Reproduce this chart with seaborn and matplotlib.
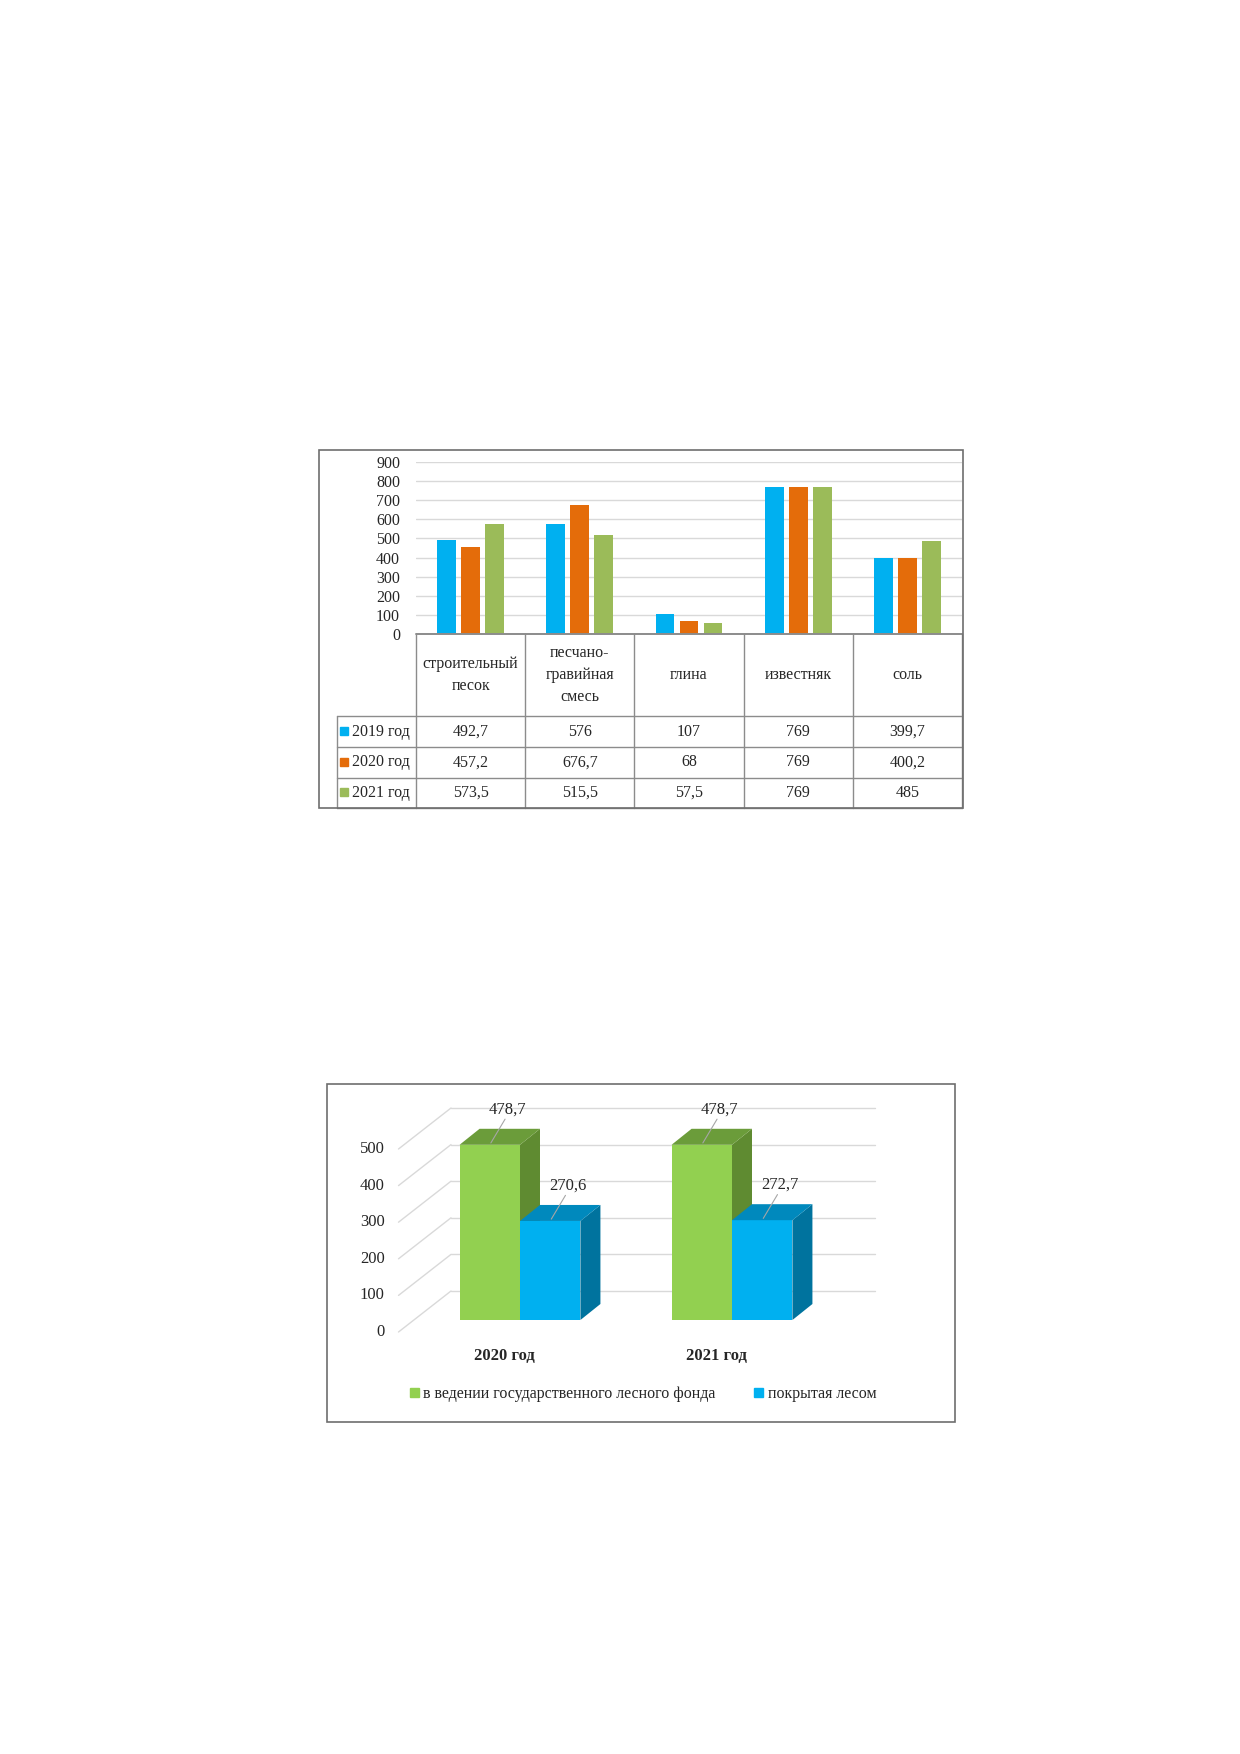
#!/usr/bin/env python3
"""Mineral extraction table chart and forest fund 3D bar chart."""

import matplotlib

matplotlib.use("Agg")
import matplotlib.pyplot as plt
import pandas as pd
import seaborn as sns
from matplotlib.patches import Patch, Polygon, Rectangle

W, H = 1240, 1754

# Chart 1: extraction by mineral and year
MINERALS = ["строительный\nпесок", "песчано-\nгравийная\nсмесь", "глина", "известняк", "соль"]
YEARS = ["2019 год", "2020 год", "2021 год"]
VALS_2019 = [492.7, 576, 107, 769, 399.7]
VALS_2020 = [457.2, 676.7, 68, 769, 400.2]
VALS_2021 = [573.5, 515.5, 57.5, 769, 485]
YEAR_COLORS = ["#00B0F0", "#E46C0A", "#9BBB59"]
Y1_TICKS = list(range(0, 901, 100))

# Chart 2: forest fund area
FOREST_YEARS = ["2020 год", "2021 год"]
FOREST_SERIES = ["в ведении государственного лесного фонда", "покрытая лесом"]
FOREST_TOTAL = [478.7, 478.7]
FOREST_COVERED = [270.6, 272.7]
FRONT_COLORS = ["#92D050", "#00B0F0"]
SIDE_COLORS = ["#5F8B31", "#00739E"]
TOP_COLORS = ["#6B9C3A", "#0089BD"]
Y2_TICKS = list(range(0, 501, 100))

GRID = "#d9d9d9"
LINE = "#8c8c8c"
FRAME = "#6e6e6e"


def fig_box(x0, y0, x1, y1):
    """Pixel box (top-left origin) -> figure fraction rect."""
    return [x0 / W, 1 - y1 / H, (x1 - x0) / W, (y1 - y0) / H]


def fmt(v):
    return f"{v:g}".replace(".", ",")


def add_frame(fig, x0, y0, x1, y1):
    fig.add_artist(Rectangle((x0 / W, 1 - y1 / H), (x1 - x0) / W, (y1 - y0) / H,
                             transform=fig.transFigure, fill=False, ec=FRAME, lw=1.2))


def chart_minerals(fig):
    df = pd.DataFrame({
        "mineral": MINERALS * 3,
        "year": [YEARS[0]] * 5 + [YEARS[1]] * 5 + [YEARS[2]] * 5,
        "value": VALS_2019 + VALS_2020 + VALS_2021,
    })

    ax = fig.add_axes(fig_box(416, 462, 962, 634))
    sns.barplot(data=df, x="mineral", y="value", hue="year", palette=YEAR_COLORS,
                saturation=1, width=0.66, gap=0.22, linewidth=0, legend=False, ax=ax)
    ax.set_xlim(-0.5, 4.5)
    ax.set_ylim(0, 900)
    ax.set_yticks(Y1_TICKS)
    ax.set_yticklabels([str(t) for t in Y1_TICKS], fontsize=11.5)
    ax.set_xticks([])
    ax.set_xlabel("")
    ax.set_ylabel("")
    ax.tick_params(axis="y", length=0, pad=11.5)
    ax.yaxis.grid(True, color=GRID, lw=1)
    ax.set_axisbelow(True)
    for s in ax.spines.values():
        s.set_visible(False)

    # data table under the plot
    tab = fig.add_axes(fig_box(337, 634, 962, 808))
    xl = -0.5 - 79 / 109.2
    tab.set_xlim(xl, 4.5)
    tab.set_ylim(174, 0)
    tab.axis("off")
    rows = [0, 82, 113, 144, 174]
    tab.plot([-0.5, 4.5], [0, 0], color=LINE, lw=1.4, clip_on=False)
    for r in rows[1:]:
        tab.plot([xl, 4.5], [r, r], color=LINE, lw=1, clip_on=False)
    for k in range(6):
        tab.plot([k - 0.5, k - 0.5], [0, 174], color=LINE, lw=1, clip_on=False)
    tab.plot([xl, xl], [82, 174], color=LINE, lw=1, clip_on=False)

    for k, name in enumerate(MINERALS):
        tab.text(k, 41, name, ha="center", va="center", fontsize=11.5, linespacing=1.5)

    series = [VALS_2019, VALS_2020, VALS_2021]
    for i, (year, vals, col) in enumerate(zip(YEARS, series, YEAR_COLORS)):
        yc = (rows[i + 1] + rows[i + 2]) / 2
        tab.plot([xl + 0.064], [yc - 1], marker="s", ms=5.5, color=col, clip_on=False)
        tab.text(xl + 0.135, yc, year, ha="left", va="center", fontsize=11.5)
        for k, v in enumerate(vals):
            tab.text(k, yc, fmt(v), ha="center", va="center", fontsize=11.5)

    add_frame(fig, 319, 450, 963, 808)


def chart_forest(fig):
    df = pd.DataFrame({
        "year": FOREST_YEARS * 2,
        "series": [FOREST_SERIES[0]] * 2 + [FOREST_SERIES[1]] * 2,
        "value": FOREST_TOTAL + FOREST_COVERED,
    })

    # oblique 3D projection in data units of the bar plane
    x0_px, y0_px = 520, 1320
    px_cat, px_unit = 212, 0.366
    bar_dx, bar_dy = 20 / px_cat, 16 / px_unit
    wall_dx, wall_dy = 37 / px_cat, 29 / px_unit
    front_dx, front_dy = 15.5 / px_cat, 12 / px_unit

    ax = fig.add_axes(fig_box(380, 1090, 900, 1365))
    sns.barplot(data=df, x="year", y="value", hue="series", palette=FRONT_COLORS,
                saturation=1, width=0.57, linewidth=0, legend=False, ax=ax)
    ax.set_xlim((380 - x0_px) / px_cat, (900 - x0_px) / px_cat)
    ax.set_ylim((y0_px - 1365) / px_unit, (y0_px - 1090) / px_unit)
    ax.axis("off")

    # back wall and left wall
    for v in Y2_TICKS:
        ax.plot([-0.5 + wall_dx, 1.5 + wall_dx], [v + wall_dy] * 2, color=GRID, lw=1, zorder=0.5)
        ax.plot([-0.5 - front_dx, -0.5 + wall_dx], [v - front_dy, v + wall_dy],
                color=GRID, lw=1, zorder=0.5)
        ax.text(-0.5 - front_dx - 0.065, v - front_dy, str(v), ha="right", va="center",
                fontsize=12)

    n_cat = len(FOREST_YEARS)
    bars = list(ax.patches)
    order = sorted(range(len(bars)), key=lambda i: bars[i].get_x())
    for rank, i in enumerate(order):
        p = bars[i]
        s = i // n_cat
        x, w, h = p.get_x(), p.get_width(), p.get_height()
        z = 2 + rank * 0.1
        p.set_zorder(z)
        side = Polygon([(x + w, 0), (x + w + bar_dx, bar_dy), (x + w + bar_dx, h + bar_dy), (x + w, h)],
                       closed=True, fc=SIDE_COLORS[s], ec="none", zorder=z + 0.01)
        top = Polygon([(x, h), (x + bar_dx, h + bar_dy), (x + w + bar_dx, h + bar_dy), (x + w, h)],
                      closed=True, fc=TOP_COLORS[s], ec="none", zorder=z + 0.01)
        ax.add_patch(side)
        ax.add_patch(top)

        cx = x + w / 2
        ax.plot([cx + 0.005, cx + 0.072], [h + 5, h + 70], color="#a6a6a6", lw=0.8, zorder=5)
        ax.text(cx + 0.082, h + 96, fmt(p.get_height()), ha="center", va="center",
                fontsize=12, zorder=6)

    for k, label in enumerate(FOREST_YEARS):
        ax.text(k - front_dx, (y0_px - 1356) / px_unit, label, ha="center", va="center",
                fontsize=12, fontweight="bold")

    handles = [Patch(color=c) for c in FRONT_COLORS]
    fig.legend(handles, FOREST_SERIES, loc="center", bbox_to_anchor=(643 / W, 1 - 1394 / H),
               ncol=2, frameon=False, fontsize=11.5, handlelength=0.55, handleheight=0.55,
               handletextpad=0.3, columnspacing=2.4)

    add_frame(fig, 327, 1084, 955, 1422)


def main():
    sns.set_style("white")
    plt.rcParams["font.family"] = ["Liberation Serif", "DejaVu Serif"]
    fig = plt.figure(figsize=(W / 100, H / 100), dpi=100)
    chart_minerals(fig)
    chart_forest(fig)
    fig.savefig("out.png", dpi=100)
    plt.close(fig)


if __name__ == "__main__":
    main()
